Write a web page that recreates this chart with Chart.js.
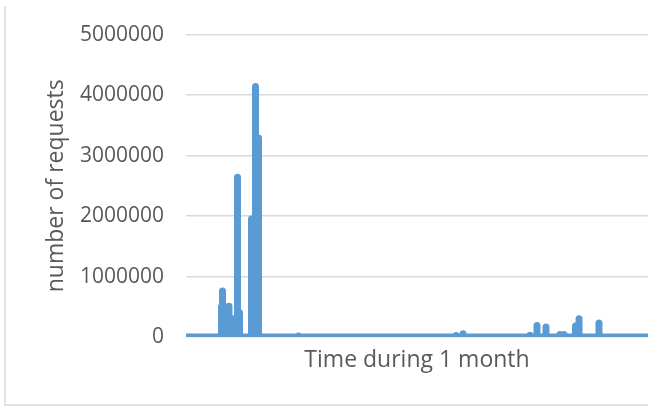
<!DOCTYPE html>
<html>
<head>
<meta charset="utf-8">
<script src="https://cdn.jsdelivr.net/npm/chart.js@4/dist/chart.umd.min.js"></script>
<style>
    html, body { margin: 0; padding: 0; background: #fff; }
    #wrap { position: relative; width: 649px; height: 407px; }
</style>
</head>
<body>
<div id="wrap"><canvas id="requests_chart"></canvas></div>
<script>
// Hour of the month for each sample (0 - 720); bursts go up and back down within the hour
var hours = [0,
    55.3, 55.3, 55.3, 56.9, 56.9, 56.9, 62.3, 62.3, 62.3, 67, 67, 67,
    71.7, 71.7, 71.7, 74.8, 74.8, 74.8, 80.3, 80.3, 80.3, 83.4, 83.4, 83.4,
    102.1, 102.1, 102.1, 108.3, 108.3, 108.3, 113, 113, 113,
    175.3, 175.3, 175.3,
    420.8, 420.8, 420.8, 431.7, 431.7, 431.7,
    536.1, 536.1, 536.1, 547, 547, 547, 561, 561, 561,
    582.8, 582.8, 582.8, 589.1, 589.1, 589.1,
    607, 607, 607, 612.5, 612.5, 612.5, 643.6, 643.6, 643.6,
    720];

// Number of requests at each sample
var requests = [0,
    0, 500000, 0, 0, 760000, 0, 0, 500000, 0, 0, 510000, 0,
    0, 300000, 0, 0, 300000, 0, 0, 2640000, 0, 0, 400000, 0,
    0, 1950000, 0, 0, 4140000, 0, 0, 3290000, 0,
    0, 15000, 0,
    0, 25000, 0, 0, 55000, 0,
    0, 27000, 0, 0, 190000, 0, 0, 165000, 0,
    0, 42000, 0, 0, 40000, 0,
    0, 180000, 0, 0, 300000, 0, 0, 230000, 0,
    0];

var yTicks = [0, 1000000, 2000000, 3000000, 4000000, 5000000];

var textColor = '#595959';
var gridColor = '#d9d9d9';

Chart.defaults.font.family = "'Open Sans', sans-serif";
Chart.defaults.color = textColor;

// thin grey frame like the Excel chart border
var framePlugin = {
    id: 'frame',
    afterDraw: function (chart) {
        var ctx = chart.ctx;
        ctx.save();
        ctx.strokeStyle = gridColor;
        ctx.lineWidth = 1.5;
        ctx.beginPath();
        ctx.moveTo(5, 6);
        ctx.lineTo(5, 405);
        ctx.lineTo(648, 405);
        ctx.stroke();
        ctx.restore();
    }
};

var points = hours.map(function (h, i) { return { x: h, y: requests[i] }; });

new Chart(document.getElementById('requests_chart').getContext('2d'), {
    type: 'line',
    data: {
        datasets: [{
            data: points,
            borderColor: '#5b9bd5',
            borderWidth: 7,
            borderJoinStyle: 'round',
            borderCapStyle: 'butt',
            pointRadius: 0,
            tension: 0,
            fill: false
        }]
    },
    options: {
        responsive: true,
        maintainAspectRatio: false,
        animation: false,
        layout: { padding: { left: 0, right: 1, top: 34, bottom: 0 } },
        plugins: { legend: { display: false }, tooltip: { enabled: false } },
        scales: {
            x: {
                type: 'linear',
                min: 0,
                max: 720,
                grid: { display: false },
                border: { display: false },
                ticks: { display: false },
                title: {
                    display: true,
                    text: 'Time during 1 month',
                    font: { size: 23 },
                    color: textColor,
                    padding: { top: 0, bottom: 33 }
                },
                afterFit: function (scale) { scale.height = 70; }
            },
            y: {
                min: 0,
                max: 5000000,
                afterBuildTicks: function (scale) {
                    scale.ticks = yTicks.map(function (v) { return { value: v }; });
                },
                grid: { color: gridColor, lineWidth: 1.5, drawTicks: false },
                border: { display: false },
                ticks: {
                    padding: 22,
                    font: { size: 21 },
                    color: textColor,
                    callback: function (v) { return String(v); }
                },
                title: {
                    display: true,
                    text: 'number of requests',
                    font: { size: 23 },
                    color: textColor,
                    padding: { top: 43, bottom: 0 }
                },
                afterFit: function (scale) { scale.width = 186; }
            }
        }
    },
    plugins: [framePlugin]
});
</script>
</body>
</html>
